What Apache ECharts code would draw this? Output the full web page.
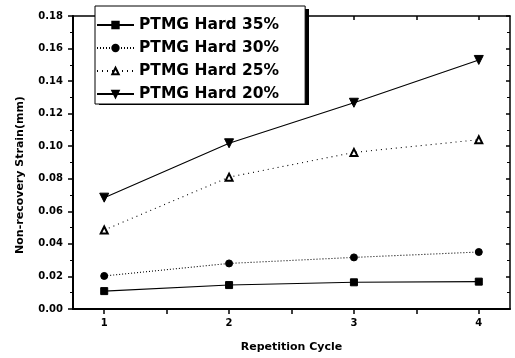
<!DOCTYPE html>
<html>
<head>
<meta charset="utf-8">
<script src="https://cdn.jsdelivr.net/npm/echarts@6/dist/echarts.min.js"></script>
<style>
  html, body { margin: 0; padding: 0; background: #fff; }
  #main { width: 515px; height: 358px; }
</style>
</head>
<body>
<div id="main"></div>
<script>
// values
const cycles = [1, 2, 3, 4]
const hard35 = [0.011, 0.0147, 0.0164, 0.0168]
const hard30 = [0.0203, 0.028, 0.0317, 0.035]
const hard25 = [0.0485, 0.081, 0.0962, 0.104]
const hard20 = [0.0684, 0.1018, 0.1267, 0.153]
const xLabelValues = [1, 2, 3, 4]
const xTickValues = [1, 1.5, 2, 2.5, 3, 3.5, 4]

const font = 'DejaVu Sans'
const pairs = (ys) => cycles.map((c, i) => [c, ys[i]])

// legend box (border incl.), the drop shadow is drawn behind it
const legendBox = { left: 95, top: 6, width: 210, height: 96 }

const myChart = echarts.init(document.getElementById('main'))

function mkSeries (name, ys, symbol, size, lineType, rotate) {
  return {
    name: name,
    type: 'line',
    data: pairs(ys),
    symbol: symbol,
    symbolSize: size,
    symbolRotate: rotate || 0,
    itemStyle: { color: '#000', borderColor: '#000', borderWidth: 1 },
    lineStyle: { color: '#000', width: 1.1, type: lineType },
    emphasis: { disabled: true },
    z: 3
  }
}

const option = {
  backgroundColor: '#fff',
  animation: false,
  grid: { left: 73, right: 5, top: 16, bottom: 49, containLabel: false },
  legend: {
    orient: 'vertical',
    left: legendBox.left,
    top: legendBox.top,
    padding: [11, 26, 2, 1],
    itemWidth: 37,
    itemHeight: 8,
    itemGap: 7,
    backgroundColor: '#fff',
    borderColor: '#000',
    borderWidth: 1,
    borderRadius: 0,
    textStyle: { fontFamily: font, fontWeight: 'bold', fontSize: 15.5, color: '#000' },
    z: 10
  },
  xAxis: [{
    type: 'value',
    position: 'bottom',
    min: 0.75,
    max: 4.25,
    splitLine: { show: false },
    axisLine: { show: true, onZero: false, lineStyle: { color: '#000', width: 2 } },
    axisTick: { show: true, length: 5, customValues: xTickValues, lineStyle: { color: '#000', width: 1.5 } },
    axisLabel: { customValues: xLabelValues, margin: 9, fontFamily: font, fontWeight: 'bold', fontSize: 10, color: '#000' },
    name: 'Repetition Cycle',
    nameLocation: 'middle',
    nameGap: 33,
    nameTextStyle: { fontFamily: font, fontWeight: 'bold', fontSize: 11, color: '#000' }
  }, {
    type: 'value',
    position: 'top',
    min: 0.75,
    max: 4.25,
    splitLine: { show: false },
    axisLine: { show: true, onZero: false, lineStyle: { color: '#000', width: 1.5 } },
    axisTick: { show: true, inside: true, length: 4, customValues: xTickValues, lineStyle: { color: '#000', width: 1.5 } },
    axisLabel: { show: false }
  }],
  yAxis: [{
    type: 'value',
    position: 'left',
    min: 0,
    max: 0.18,
    interval: 0.02,
    splitLine: { show: false },
    axisLine: { show: true, onZero: false, lineStyle: { color: '#000', width: 2 } },
    axisTick: { show: true, length: 5, lineStyle: { color: '#000', width: 1.5 } },
    minorTick: { show: true, splitNumber: 2, length: 3, lineStyle: { color: '#000', width: 1 } },
    axisLabel: { margin: 10, fontFamily: font, fontWeight: 'bold', fontSize: 10, color: '#000', formatter: (v) => v.toFixed(2) }
  }, {
    type: 'value',
    position: 'right',
    min: 0,
    max: 0.18,
    interval: 0.02,
    splitLine: { show: false },
    axisLine: { show: true, onZero: false, lineStyle: { color: '#000', width: 1.5 } },
    axisTick: { show: true, inside: true, length: 4, lineStyle: { color: '#000', width: 1.5 } },
    minorTick: { show: true, splitNumber: 2, length: 3, lineStyle: { color: '#000', width: 1 } },
    axisLabel: { show: false }
  }],
  graphic: [{
    type: 'rect',
    z: 9,
    shape: { x: legendBox.left + 4, y: legendBox.top + 3, width: legendBox.width, height: legendBox.height },
    style: { fill: '#000' }
  }, {
    type: 'text',
    x: 20,
    y: 175,
    rotation: Math.PI / 2,
    style: {
      text: 'Non-recovery Strain(mm)',
      fontFamily: font,
      fontWeight: 'bold',
      fontSize: 11,
      fill: '#000',
      align: 'center',
      verticalAlign: 'middle'
    }
  }],
  series: [
    mkSeries('PTMG Hard 35%', hard35, 'rect', 7, 'solid'),
    mkSeries('PTMG Hard 30%', hard30, 'circle', 7, [1, 2]),
    mkSeries('PTMG Hard 25%', hard25, 'emptyTriangle', 7, [1, 4]),
    mkSeries('PTMG Hard 20%', hard20, 'triangle', 9, 'solid', 180)
  ]
}

myChart.setOption(option)
</script>
</body>
</html>
